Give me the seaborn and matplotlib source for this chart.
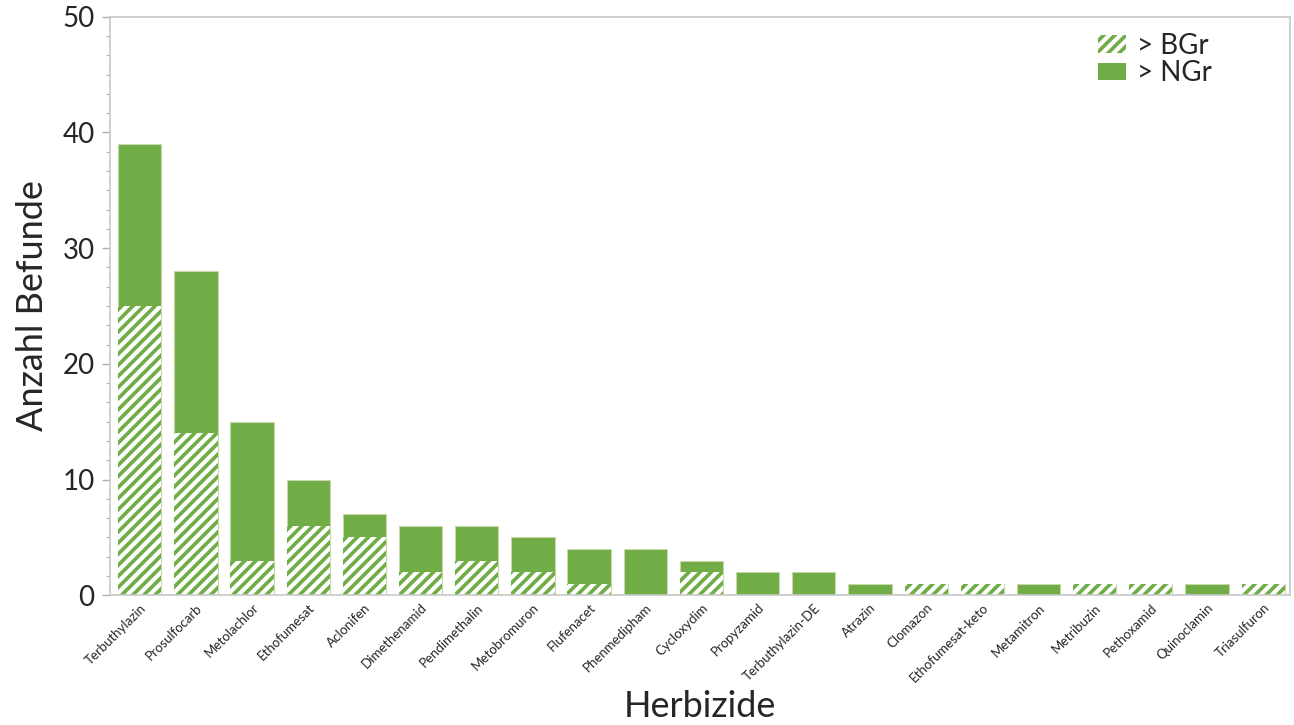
import pandas as pd
import numpy as np
import matplotlib
matplotlib.use("Agg")
import matplotlib.pyplot as plt
import seaborn as sns
from matplotlib.patches import Patch
from matplotlib.ticker import MultipleLocator, AutoMinorLocator

# data
herbizide = ['Terbuthylazin', 'Prosulfocarb', 'Metolachlor', 'Ethofumesat', 'Aclonifen',
             'Dimethenamid', 'Pendimethalin', 'Metobromuron', 'Flufenacet', 'Phenmedipham',
             'Cycloxydim', 'Propyzamid', 'Terbuthylazin-DE', 'Atrazin', 'Clomazon',
             'Ethofumesat-keto', 'Metamitron', 'Metribuzin', 'Pethoxamid', 'Quinoclamin',
             'Triasulfuron']
gesamt = [39, 28, 15, 10, 7, 6, 6, 5, 4, 4, 3, 2, 2, 1, 1, 1, 1, 1, 1, 1, 1]
ueber_bgr = [25, 14, 3, 6, 5, 2, 3, 2, 1, 0, 2, 0, 0, 0, 1, 1, 0, 1, 1, 0, 1]

df = pd.DataFrame({'Herbizid': herbizide, 'Gesamt': gesamt, 'BGr': ueber_bgr})

green = '#70ad47'
sns.set_style('white')
plt.rcParams['font.family'] = ['Lato', 'DejaVu Sans']
plt.rcParams['hatch.linewidth'] = 3.0
plt.rcParams['hatch.color'] = 'white'

fig = plt.figure(figsize=(12.94, 7.25), dpi=100)
ax = fig.add_axes([0.085, 0.179, 0.912, 0.798])

sns.barplot(data=df, x='Herbizid', y='Gesamt', color=green, saturation=1,
            width=0.77, edgecolor='#c9d6a8', linewidth=0.8, ax=ax)
sns.barplot(data=df, x='Herbizid', y='BGr', color=green, saturation=1,
            width=0.77, edgecolor='white', linewidth=0, hatch='///', ax=ax)

ax.set_ylim(0, 50)
ax.set_xlim(-0.53, len(herbizide) - 0.52)
ax.yaxis.set_major_locator(MultipleLocator(10))
ax.yaxis.set_minor_locator(AutoMinorLocator(6))
ax.tick_params(axis='y', which='major', left=True, length=6, width=1, color='#b0b0b0',
               labelsize=20, pad=5)
ax.tick_params(axis='y', which='minor', left=True, length=3, width=0.8, color='#b0b0b0')
ax.tick_params(axis='x', bottom=False, labelsize=9.5, pad=1)
plt.setp(ax.get_xticklabels(), rotation=45, ha='right', rotation_mode='anchor')

for s in ax.spines.values():
    s.set_color('#c8c8c8')
    s.set_linewidth(1.2)

ax.set_ylabel('Anzahl Befunde', fontsize=26, labelpad=10)
ax.set_xlabel('Herbizide', fontsize=26, labelpad=4)

handles = [Patch(facecolor=green, edgecolor='white', hatch='///', linewidth=0, label='> BGr'),
           Patch(facecolor=green, edgecolor=green, linewidth=0, label='> NGr')]
ax.legend(handles=handles, loc='upper right', frameon=False, fontsize=20,
          handlelength=1.0, handleheight=0.6, handletextpad=0.4, labelspacing=0.05,
          bbox_to_anchor=(0.955, 1.015))

fig.savefig('out.png', dpi=100)
